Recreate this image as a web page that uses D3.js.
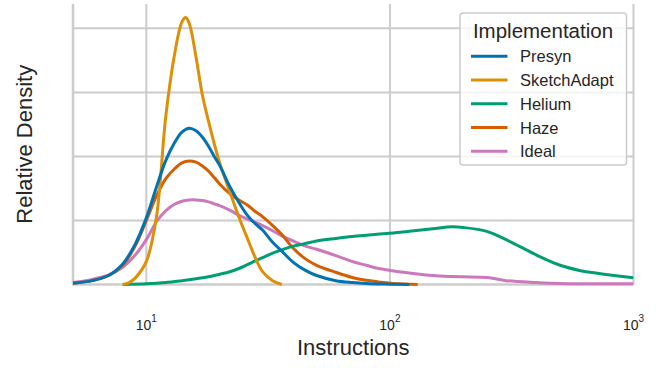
<!DOCTYPE html>
<html>
<head>
<meta charset="utf-8">
<script src="https://cdn.jsdelivr.net/npm/d3@7"></script>
<style>
  body { margin: 0; background: white; }
  text { font-family: "Liberation Sans", Arial, sans-serif; fill: #262626; }
</style>
</head>
<body>
<div id="canvas"></div>
<script>
const width = 660;
const height = 368;

// series names and colours (legend order)
const names = ["Presyn", "SketchAdapt", "Helium", "Haze", "Ideal"];
const colors = ["#0173b2", "#de8f05", "#029e73", "#d55e00", "#cc78bc"];

// [instructions, relative density]
const presyn = [[5,0.02],[6,0.06],[7,0.14],[8,0.32],[9,0.63],[10,1.04],[11,1.52],[12,1.93],[13,2.2],[14,2.38],[15,2.44],[16,2.4],[17,2.3],[18,2.16],[19,2.0],[20,1.86],[22,1.53],[24,1.28],[26,1.08],[28,0.95],[30,0.85],[33,0.66],[36,0.52],[40,0.35],[45,0.22],[50,0.14],[60,0.06],[70,0.03],[80,0.015],[100,0.005],[120,0]];
const sketchAdapt = [[8,0],[8.5,0.03],[9,0.1],[10,0.36],[11,1.05],[12,2.6],[13,3.55],[14,4.1],[14.5,4.17],[15,4.08],[16,3.55],[17,2.95],[18,2.55],[19,2.2],[20,1.9],[22,1.45],[24,1.05],[26,0.72],[28,0.42],[30,0.2],[33,0.06],[36,0]];
const helium = [[8,0],[10,0.01],[12,0.03],[14,0.06],[16,0.09],[18,0.12],[20,0.16],[22,0.2],[24,0.25],[26,0.31],[28,0.37],[30,0.42],[33,0.49],[36,0.54],[40,0.6],[45,0.64],[50,0.68],[60,0.72],[70,0.75],[80,0.77],[100,0.8],[120,0.83],[150,0.87],[180,0.9],[200,0.89],[250,0.83],[300,0.7],[400,0.46],[500,0.3],[600,0.22],[700,0.18],[800,0.15],[1000,0.105]];
const haze = [[5,0.02],[6,0.06],[7,0.14],[8,0.3],[9,0.6],[10,1.0],[11,1.38],[12,1.65],[13,1.8],[14,1.9],[15,1.93],[16,1.91],[17,1.85],[18,1.77],[19,1.67],[20,1.57],[22,1.42],[24,1.32],[26,1.24],[28,1.14],[30,1.06],[33,0.92],[36,0.78],[40,0.57],[45,0.4],[50,0.3],[60,0.19],[70,0.11],[80,0.065],[90,0.04],[100,0.02],[120,0.005],[130,0]];
const ideal = [[5,0.03],[6,0.08],[7,0.15],[8,0.27],[9,0.46],[10,0.7],[11,0.98],[12,1.15],[13,1.25],[14,1.3],[15,1.32],[16,1.32],[17,1.31],[18,1.29],[19,1.26],[20,1.23],[22,1.16],[24,1.08],[26,1.02],[28,0.97],[30,0.92],[33,0.84],[36,0.76],[40,0.68],[45,0.6],[50,0.55],[60,0.45],[70,0.36],[80,0.3],[90,0.25],[100,0.22],[120,0.18],[150,0.14],[180,0.125],[200,0.12],[250,0.11],[300,0.06],[400,0.03],[500,0.015],[1000,0.01]];

const seriesData = [presyn, sketchAdapt, helium, haze, ideal];
const xTicks = [10, 100, 1000];
const yGrid = [1, 2, 3, 4];

const svg = d3.select("#canvas")
    .append("svg")
    .attr("width", width)
    .attr("height", height);

const x = d3.scaleLog().domain([5, 1000]).range([73, 633.5]);
const y = d3.scaleLinear().domain([0, 4.38]).range([284.5, 4]);

svg.append("clipPath").attr("id", "plot")
    .append("rect")
    .attr("x", x(5)).attr("y", 0)
    .attr("width", x(1000) - x(5))
    .attr("height", y(0) + 1.5);

// grid
svg.append("g").selectAll("line").data(yGrid).join("line")
    .attr("x1", x(5)).attr("x2", x(1000))
    .attr("y1", d => y(d)).attr("y2", d => y(d))
    .attr("stroke", "#cccccc").attr("stroke-width", 2);

svg.append("g").selectAll("line").data(xTicks).join("line")
    .attr("x1", d => x(d)).attr("x2", d => x(d))
    .attr("y1", y(0)).attr("y2", y.range()[1])
    .attr("stroke", "#cccccc").attr("stroke-width", 2);

// spines (left + bottom)
svg.append("line")
    .attr("x1", x(5)).attr("x2", x(5))
    .attr("y1", y(0)).attr("y2", y.range()[1])
    .attr("stroke", "#cccccc").attr("stroke-width", 2.5);

svg.append("line")
    .attr("x1", x(5) - 1).attr("x2", x(1000))
    .attr("y1", y(0)).attr("y2", y(0))
    .attr("stroke", "#cccccc").attr("stroke-width", 2.5);

// density lines, drawn last-first like seaborn
const line = d3.line()
    .x(d => x(d[0]))
    .y(d => y(d[1]))
    .curve(d3.curveCatmullRom.alpha(0.5));

const lines = svg.append("g").attr("clip-path", "url(#plot)");
for (let i = seriesData.length - 1; i >= 0; i--) {
    lines.append("path")
        .datum(seriesData[i])
        .attr("d", line)
        .attr("fill", "none")
        .attr("stroke", colors[i])
        .attr("stroke-width", 3)
        .attr("stroke-linejoin", "round");
}

// x tick labels as 10^n
svg.append("g").selectAll("text").data(xTicks).join("text")
    .attr("x", d => x(d))
    .attr("y", 330)
    .attr("text-anchor", "middle")
    .attr("font-size", 14)
    .each(function(d) {
        const t = d3.select(this);
        t.append("tspan").text("10");
        t.append("tspan").attr("dy", -8).attr("font-size", 10).text(Math.round(Math.log10(d)));
    });

// axis titles
svg.append("text")
    .attr("x", (x(5) + x(1000)) / 2)
    .attr("y", 355)
    .attr("text-anchor", "middle")
    .attr("font-size", 22)
    .text("Instructions");

svg.append("text")
    .attr("transform", "translate(32," + ((y(0) + y.range()[1]) / 2) + ") rotate(-90)")
    .attr("text-anchor", "middle")
    .attr("font-size", 22)
    .text("Relative Density");

// legend
const legend = svg.append("g");
legend.append("rect")
    .attr("x", 460).attr("y", 13)
    .attr("width", 166.5).attr("height", 152)
    .attr("rx", 3)
    .attr("fill", "white").attr("fill-opacity", 0.8)
    .attr("stroke", "#cccccc").attr("stroke-width", 1.5);

legend.append("text")
    .attr("x", 543).attr("y", 37.5)
    .attr("text-anchor", "middle")
    .attr("font-size", 20.5)
    .text("Implementation");

const items = legend.selectAll("g.item").data(names).join("g")
    .attr("class", "item")
    .attr("transform", (d, i) => "translate(0," + (56.3 + i * 23.75) + ")");

items.append("line")
    .attr("x1", 471).attr("x2", 507.5)
    .attr("stroke", (d, i) => colors[i])
    .attr("stroke-width", 3);

items.append("text")
    .attr("x", 520).attr("y", 6)
    .attr("font-size", 16.5)
    .text(d => d);
</script>
</body>
</html>
